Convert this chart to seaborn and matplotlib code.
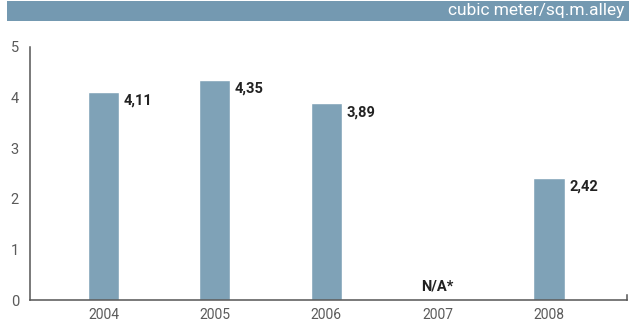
import numpy as np
import pandas as pd
import matplotlib
matplotlib.use("Agg")
import matplotlib.pyplot as plt
from matplotlib.patches import Rectangle
import seaborn as sns

# Data
years = ["2004", "2005", "2006", "2007", "2008"]
values = [4.11, 4.35, 3.89, np.nan, 2.42]
value_labels = ["4,11", "4,35", "3,89", "N/A*", "2,42"]
y_ticks = [0, 1, 2, 3, 4, 5]
unit_label = "cubic meter/sq.m.alley"

BAR = "#7fa2b7"
HEADER = "#7499b1"
AXIS = "#555555"
TICK_TEXT = "#5a5a5a"
LABEL_TEXT = "#222222"

sns.set_style("white")
plt.rcParams["font.family"] = ["Roboto", "DejaVu Sans"]

df = pd.DataFrame({"year": years, "value": values})

fig = plt.figure(figsize=(6.29, 3.28), dpi=100)
ax = fig.add_axes([30 / 629, 28 / 328, 597 / 629, 253 / 328])

sns.barplot(data=df, x="year", y="value", order=years, color=BAR,
            width=0.28, saturation=1, ax=ax, errorbar=None)

ax.set_xlim(-0.66, 4.70)
ax.set_ylim(0, 5)
ax.set_yticks(y_ticks)
ax.set_yticklabels([str(t) for t in y_ticks])
ax.set_xlabel("")
ax.set_ylabel("")

ax.spines["top"].set_visible(False)
for side in ["left", "bottom", "right"]:
    ax.spines[side].set_color(AXIS)
    ax.spines[side].set_linewidth(1.1)
ax.spines["right"].set_bounds(0, 0.1)

ax.tick_params(axis="y", direction="in", length=3, width=0.8, color=AXIS,
               pad=8, labelsize=10.5, labelcolor=TICK_TEXT)
ax.tick_params(axis="x", length=0, pad=6, labelsize=10, labelcolor=TICK_TEXT)

# Value labels beside each bar
half = 0.28 / 2
for i, (v, lab) in enumerate(zip(values, value_labels)):
    if np.isnan(v):
        ax.text(i, 0.12, lab, ha="center", va="bottom", fontsize=10.5,
                fontweight="bold", color=LABEL_TEXT)
    else:
        ax.text(i + half + 0.04, v - 0.04, lab, ha="left", va="top",
                fontsize=10.5, fontweight="bold", color=LABEL_TEXT)

# Unit banner across the top
fig.patches.append(Rectangle((7 / 629, 1 - 21 / 328), 1 - 7 / 629, 20 / 328,
                             transform=fig.transFigure, facecolor=HEADER,
                             edgecolor="none", zorder=0))
fig.text(624 / 629, 1 - 11 / 328, unit_label, ha="right", va="center",
         color="white", fontsize=12.5)

fig.savefig("out.png", dpi=100)
